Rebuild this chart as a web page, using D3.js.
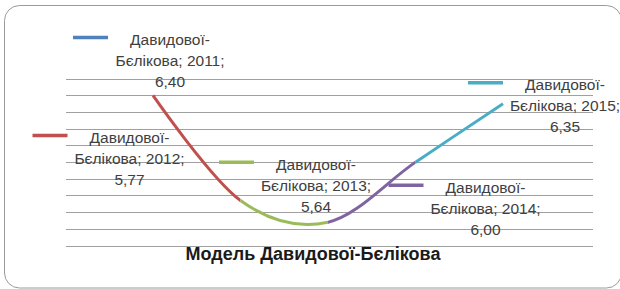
<!DOCTYPE html>
<html><head><meta charset="utf-8">
<script src="https://cdn.jsdelivr.net/npm/d3@7"></script>
<style>body{margin:0;background:#fff} svg{display:block}</style>
</head><body><svg id="c" width="620" height="289"></svg>
<script>
const seriesName = "Давидової-Бєлікова";
const years = [2011, 2012, 2013, 2014, 2015];
const values = [6.40, 5.77, 5.64, 6.00, 6.35];
const colors = ["#4F81BD", "#C0504D", "#9BBB59", "#8064A2", "#4BACC6"];
const yTicks = [5.5, 5.6, 5.7, 5.8, 5.9, 6.0, 6.1, 6.2, 6.3, 6.4, 6.5];
const title = "Модель Давидової-Бєлікова";

// layout (not data)
const labelOffsets = [[17, -58], [-111, -65], [-12, -60], [70, 23], [62, -21]];
const plot = {left: 66, right: 593, top: 78.8, bottom: 245.5};

const svg = d3.select("#c");
svg.append("rect").attr("x", 4.5).attr("y", 5.5).attr("width", 617).attr("height", 282.5)
  .attr("rx", 15).attr("fill", "#fff").attr("stroke", "#9a9a9a").attr("stroke-width", 1);

const x = d3.scalePoint().domain(years).range([153, 503]);
const y = d3.scaleLinear().domain([5.5, 6.5]).range([plot.bottom, plot.top]);

svg.append("g").attr("transform", `translate(${plot.left},0)`)
  .call(d3.axisLeft(y).tickValues(yTicks).tickSize(-(plot.right - plot.left)).tickFormat(""))
  .call(g => g.select(".domain").remove())
  .call(g => g.selectAll("line").attr("stroke", "#a0a0a0").attr("stroke-width", 1).attr("shape-rendering", "crispEdges"));

const pts = years.map((yr, i) => ({yr, v: values[i]}));
const line = d3.line().x(d => x(d.yr)).y(d => y(d.v)).curve(d3.curveCardinal.tension(0));
const defs = svg.append("defs");
for (let i = 1; i < years.length; i++) {
  const x0 = x(years[i - 1]), x1 = x(years[i]);
  defs.append("clipPath").attr("id", "seg" + i).append("rect")
    .attr("x", i === 1 ? x0 - 5 : x0).attr("y", 0).attr("width", x1 - x0 + (i === 1 || i === years.length - 1 ? 5 : 0)).attr("height", 289);
  svg.append("path").datum(pts).attr("d", line).attr("fill", "none")
    .attr("stroke", colors[i]).attr("stroke-width", 3).attr("clip-path", `url(#seg${i})`);
}

const fmt = v => d3.format(".2f")(v).replace(".", ",");
const parts = seriesName.split("-");
pts.forEach((d, i) => {
  const cx = x(d.yr) + labelOffsets[i][0];
  const my = y(d.v) + labelOffsets[i][1];
  svg.append("line").attr("x1", cx - 97).attr("x2", cx - 62).attr("y1", my).attr("y2", my)
    .attr("stroke", colors[i]).attr("stroke-width", 3.5);
  const lines = [parts[0] + "-", parts[1] + "; " + d.yr + ";", fmt(d.v)];
  const t = svg.append("text").attr("text-anchor", "middle")
    .attr("font-family", "Liberation Sans, Arial, sans-serif").attr("font-size", 15.5).attr("fill", "#404040");
  lines.forEach((s, k) => t.append("tspan").attr("x", cx).attr("y", my + 7.5 + k * 21).text(s));
});

svg.append("text").attr("x", 313).attr("y", 260).attr("text-anchor", "middle")
  .attr("font-family", "Liberation Sans, Arial, sans-serif").attr("font-weight", "bold")
  .attr("font-size", 18).attr("fill", "#1a1a1a").text(title);
</script></body></html>
